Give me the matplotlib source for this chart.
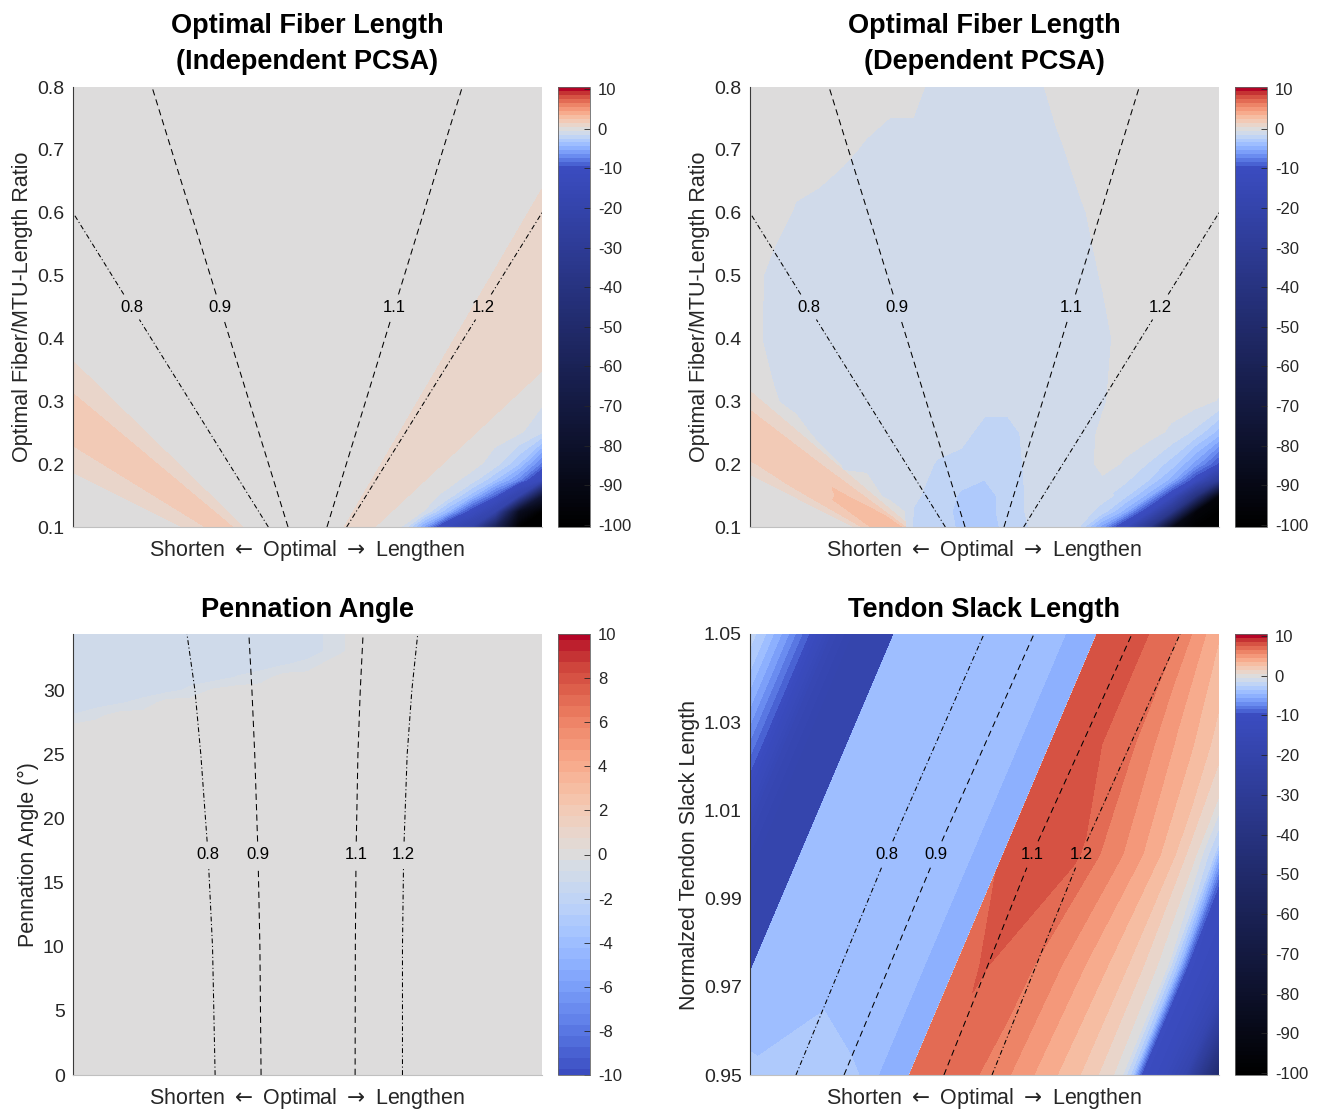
import numpy as np
import matplotlib
matplotlib.use("Agg")
import matplotlib.pyplot as plt
from matplotlib.colors import LinearSegmentedColormap

plt.rcParams['font.family'] = ['Liberation Sans', 'DejaVu Sans']
plt.rcParams['axes.unicode_minus'] = False
plt.rcParams['lines.scale_dashes'] = False

# ---------------- data ----------------
# x-axis of every panel: Shorten <- Optimal -> Lengthen, normalised to [-1, 1]
x_cols = [-1.0, -0.9, -0.8, -0.7, -0.6, -0.5, -0.4, -0.3, -0.2, -0.1, 0.0,
          0.1, 0.2, 0.3, 0.4, 0.5, 0.6, 0.7, 0.8, 0.9, 1.0]

# ---- top panels: over-estimation wedges read along rays from the optimal point ----
# ray slope = x / ratio (the iso-fiber-length lines are such rays)
ray_slope = [-10, -6, -5.6, -5.0, -4.5, -4.0, -3.6, -3.4, -3.0, -2.6, -2.0, 0,
             1.2, 1.5, 1.75, 2.5, 2.7, 3.1, 10]

# % error, Optimal Fiber Length (Independent PCSA)
indep_ratio_rows = [0.1, 0.8]
err_indep_rays = [
    [0, 0, 0.2, 0.9, 1.3, 2.0, 2.2, 2.0, 1.0, 0.2, 0, 0, 0, 0.35, 0.9, 1.0, 0.8, 0.1, 0],
    [0, 0, 0.2, 0.9, 1.3, 2.0, 2.2, 2.0, 1.0, 0.2, 0, 0, 0, 0.35, 0.9, 1.0, 0.8, 0.1, 0],
]

# % error, Optimal Fiber Length (Dependent PCSA): ray part
dep_ratio_rows = [0.1, 0.15, 0.2, 0.3, 0.8]
err_dep_rays = [
    [0, 0, 0.3, 2.2, 3.2, 3.3, 2.8, 1.6, 0, 0, 0, 0, 0, 0, 0, 0, 0, 0, 0],
    [0, 0, 0.2, 1.6, 2.4, 2.6, 2.0, 1.3, 0, 0, 0, 0, 0, 0, 0, 0, 0, 0, 0],
    [0, 0, 0.2, 1.3, 2.0, 2.2, 1.8, 1.2, 0, 0, 0, 0, 0, 0, 0, 0, 0, 0, 0],
    [0, 0, 0.2, 1.3, 2.0, 2.2, 1.8, 1.2, 0, 0, 0, 0, 0, 0, 0, 0, 0, 0, 0],
    [0, 0, 0.2, 1.3, 2.0, 2.2, 1.8, 1.2, 0, 0, 0, 0, 0, 0, 0, 0, 0, 0, 0],
]

# under-estimation in the lower-right corner (values > -0.5 are not part of it)
corner_x = [0.2, 0.3, 0.4, 0.5, 0.6, 0.7, 0.8, 0.9, 1.0]
corner_ratio_rows = [0.1, 0.125, 0.15, 0.175, 0.2, 0.25, 0.3, 0.35]
err_indep_corner = [
    [0, 0, -0.1, -6, -14, -22, -60, -100, -100],
    [0, 0, 0, -0.45, -4.5, -11, -20, -85, -100],
    [0, 0, 0, 0, -0.8, -4, -9, -20, -75],
    [0, 0, 0, 0, 0, -0.9, -3.5, -7, -14],
    [0, 0, 0, 0, 0, 0, -1.0, -3.5, -8],
    [0, 0, 0, 0, 0, 0, 0, -0.2, -1.5],
    [0, 0, 0, 0, 0, 0, 0, 0, -0.2],
    [0, 0, 0, 0, 0, 0, 0, 0, 0],
]
err_dep_corner = [
    [-1, -1, -1.3, -6, -13, -35, -90, -100, -100],
    [-1, -1, -1, -1.8, -5, -12, -35, -95, -100],
    [-1, -1, -1, -1.2, -2.2, -5, -12, -40, -95],
    [0, 0, 0, -0.6, -1.3, -2.5, -5, -11, -30],
    [0, 0, 0, 0, -0.6, -1.6, -3, -6, -10],
    [0, 0, 0, 0, 0, 0, -0.7, -1.8, -4],
    [0, 0, 0, 0, 0, 0, 0, 0, -0.55],
    [0, 0, 0, 0, 0, 0, 0, 0, 0],
]

# central under-estimation region of the dependent-PCSA panel
dep_blob_ratio_rows = [0.1, 0.125, 0.15, 0.2, 0.25, 0.3, 0.4, 0.5, 0.6, 0.7, 0.8]
err_dep_blob = [
    [0, 0, 0, 0, 0, 0, 2.0, -1.8, -2.2, -2.6, -3, -2.2, -1.4, -1, 0, 0, 0, 0, 0, 0, 0],
    [0, 0, 0, 0, 0, 0, 1.5, -1.6, -2, -2.8, -3, -2, -1.3, -1, -1, 0, 0, 0, 0, 0, 0],
    [0, 0, 0, 0, 0, 0.9, -1.2, -1.3, -2, -2.6, -3, -2, -1.3, -1, -1, -1, 0, 0, 0, 0, 0],
    [0, 0, 0, 0.5, -0.6, -1, -1, -1, -1.6, -2, -2, -2, -1.2, -1, -1, -0.2, 0, 0, 0, 0, 0],
    [0, 0, 0.3, -1, -1, -1, -1, -1, -1, -1, -2, -2, -1, -1, -1, -0.3, 0, 0, 0, 0, 0],
    [0, -0.3, -1, -1, -1, -1, -1, -1, -1, -1, -1, -1, -1, -1, -1, -0.6, 0, 0, 0, 0, 0],
    [0, -0.9, -1, -1, -1, -1, -1, -1, -1, -1, -1, -1, -1, -1, -1, -0.8, 0, 0, 0, 0, 0],
    [0, -0.8, -1, -1, -1, -1, -1, -1, -1, -1, -1, -1, -1, -1, -1, -0.4, 0, 0, 0, 0, 0],
    [0, 0, -0.6, -1, -1, -1, -1, -1, -1, -1, -1, -1, -1, -1, -0.7, 0, 0, 0, 0, 0, 0],
    [0, 0, 0, 0.28, -0.31, -0.6, -1, -1, -1, -1, -1, -1, -1, -0.8, 0, 0, 0, 0, 0, 0, 0],
    [0, 0, 0, 0, 0, 0, 0, 0, -1, -1, -1, -1, -1, 0, 0, 0, 0, 0, 0, 0, 0],
]

# Normalised fiber-length iso-lines (top panels): x position vs ratio
fl_ratio_08 = [0.1, 0.6]
fl_x_08 = [-0.167, -1.0]
fl_ratio_09 = [0.1, 0.8]
fl_x_09 = [-0.083, -0.663]
fl_ratio_11 = [0.1, 0.8]
fl_x_11 = [0.083, 0.66]
fl_ratio_12 = [0.1, 0.6]
fl_x_12 = [0.167, 1.0]

# ---- Pennation angle panel ----
angle_rows = [0, 27, 28, 29, 30, 31, 32, 33, 34.38]
err_penn = [
    [0.0] * 21,
    [0.0] * 21,
    [-0.72, -0.375] + [0.0] * 19,
    [-1.0, -1.0, -0.79, -0.58] + [0.0] * 17,
    [-1.0, -1.0, -1.0, -1.0, -0.94, -0.64, -0.17] + [0.0] * 14,
    [-1.0, -1.0, -1.0, -1.0, -1.0, -1.0, -1.0, -0.72, -0.5] + [0.0] * 12,
    [-1.0] * 9 + [-0.79, -0.58] + [0.0] * 10,
    [-1.0] * 11 + [-0.63] + [0.0] * 9,
    [-1.0] * 11 + [-0.63] + [0.0] * 9,
]
pa_angles = [0, 10, 17.2, 25, 30, 34.38]
pa_x_08 = [-0.394, -0.405, -0.424, -0.455, -0.48, -0.514]
pa_x_09 = [-0.198, -0.203, -0.211, -0.225, -0.237, -0.25]
pa_x_11 = [0.203, 0.204, 0.207, 0.215, 0.225, 0.237]
pa_x_12 = [0.405, 0.405, 0.41, 0.425, 0.445, 0.47]

# ---- Tendon slack length panel: values across the slanted bands ----
ts_band_pos = [-1.85, -1.75, -1.65, -1.55, -1.45, -1.35, -1.187, -1.185, -1.0, -0.8,
               -0.6, -0.47, -0.44, -0.321, -0.319, -0.2, 0.0, 0.1, 0.2, 0.3, 0.4,
               0.5, 0.58, 0.63, 0.67, 0.75, 0.85, 0.95, 1.05]
ts_rows = [0.95, 0.975, 1.0, 1.025, 1.05]
ts_band_shift = 0.8   # x shift of the bands from bottom to top of the panel
err_tendon = [
    [-1, -3, -6, -9.5, -16, -19, -19, -3.2, -3.4, -2.8, -3.4, -3.6, -5.2, -5.0, 7.0, 7.2,
     6.4, 5.6, 4.6, 3.6, 2.6, 1.3, 0.0, -3, -10, -12, -18, -40, -60],
    [-1, -3, -6, -9.5, -16, -19, -19, -4.0, -4.0, -4.0, -4.0, -3.8, -5.2, -5.0, 7.0, 7.6,
     6.6, 5.8, 4.8, 3.8, 2.7, 1.2, -0.3, -4, -10, -12, -16, -30, -50],
    [-1, -3, -6, -9.5, -16, -19, -19, -4.0, -4.0, -4.0, -4.0, -3.8, -5.2, -5.0, 7.6, 8.0,
     7.6, 6.4, 5.4, 4.2, 2.8, 0.6, -2.5, -8, -11, -12, -16, -30, -50],
    [-1, -3, -6, -9.5, -16, -19, -19, -4.0, -4.0, -4.0, -4.0, -3.8, -5.2, -5.0, 7.6, 8.0,
     7.0, 5.8, 4.6, 3.4, 2.0, 0.2, -3, -8, -11, -12, -16, -30, -50],
    [-1, -3, -6, -9.5, -16, -19, -19, -4.0, -4.0, -4.0, -4.0, -3.8, -5.2, -5.0, 7.6, 8.0,
     7.0, 5.2, 3.6, 2.2, 1.0, 0, -3, -8, -11, -12, -16, -30, -50],
]
ts_y = [0.95, 1.0, 1.05]
ts_x_08 = [-0.804, -0.416, -0.002]
ts_x_09 = [-0.599, -0.207, 0.211]
ts_x_11 = [-0.173, 0.203, 0.629]
ts_x_12 = [0.032, 0.411, 0.834]

level_labels = ['0.8', '0.9', '1.1', '1.2']
cbar_ticks_main = [10, 0, -10, -20, -30, -40, -50, -60, -70, -80, -90, -100]
cbar_ticks_penn = [10, 8, 6, 4, 2, 0, -2, -4, -6, -8, -10]

# ---------------- styling ----------------
cw = plt.get_cmap('coolwarm')
nodes = [(0.0, (0, 0, 0))] + [((v + 100) / 110, cw((v + 10) / 20)) for v in np.linspace(-10, 10, 41)]
err_cmap = LinearSegmentedColormap.from_list('err', nodes, N=2048)
main_levels = np.arange(-100.5, 10.6, 1.0)
neg_levels = main_levels[main_levels <= -0.5]
penn_levels = np.arange(-10.25, 10.3, 0.5)

W, H = 1321, 1110
fig = plt.figure(figsize=(W / 100, H / 100), dpi=100)


def fpos(x0, y0, x1, y1):
    return [x0 / W, 1 - y1 / H, (x1 - x0) / W, (y1 - y0) / H]


styles = ['dashdot', 'dashed', 'dashed', 'dashdot']
dash_map = {'dashed': (0, (4.5, 3.0)), 'dashdot': (0, (3.5, 1.8, 0.8, 1.8))}
XLABEL = 'Shorten $\\leftarrow$ Optimal $\\rightarrow$ Lengthen'


def style_axes(ax, ylabel):
    ax.spines['top'].set_visible(False)
    ax.spines['right'].set_visible(False)
    ax.spines['left'].set_color('#3a3a3a')
    ax.spines['left'].set_linewidth(0.8)
    ax.spines['bottom'].set_color('#c0c0c0')
    ax.spines['bottom'].set_linewidth(0.8)
    ax.set_xticks([])
    ax.tick_params(axis='y', length=0, labelsize=14, pad=6, colors='#262626')
    ax.set_xlabel(XLABEL, fontsize=15.5, labelpad=8, color='#262626')
    ax.set_ylabel(ylabel, fontsize=15.5, labelpad=3, color='#262626')


def iso_line(ax, xs, ys, style, label, ylab, gap):
    xs = np.asarray(xs, float)
    ys = np.asarray(ys, float)
    ls = dash_map[style]
    lo = ys < ylab - gap
    hi = ys > ylab + gap
    xl = np.append(xs[lo], np.interp(ylab - gap, ys, xs))
    yl = np.append(ys[lo], ylab - gap)
    xh = np.insert(xs[hi], 0, np.interp(ylab + gap, ys, xs))
    yh = np.insert(ys[hi], 0, ylab + gap)
    for a, b in ((xl, yl), (xh, yh)):
        ax.plot(a, b, color='black', lw=0.75, linestyle=ls)
    ax.text(np.interp(ylab, ys, xs), ylab, label, ha='center', va='center', fontsize=12)


def colorbar(cs, pos, ticks, lim=None):
    cax = fig.add_axes(pos)
    cb = fig.colorbar(cs, cax=cax, ticks=ticks)
    cb.outline.set_linewidth(0.6)
    cb.outline.set_edgecolor('#666666')
    cax.tick_params(direction='in', length=4, width=0.6, labelsize=12, pad=6, colors='#262626')
    cax.set_yticklabels([str(t) for t in ticks])
    if lim is not None:
        cax.set_ylim(*lim)
    return cb


def fan_mesh(slopes, ratios):
    S, R = np.meshgrid(slopes, ratios)
    return S * R, R


# ---- Panel 1 ----
ax1 = fig.add_axes(fpos(73, 87, 542, 527))
X1, Y1 = fan_mesh(ray_slope, indep_ratio_rows)
cs1 = ax1.contourf(X1, Y1, np.array(err_indep_rays), levels=main_levels,
                   cmap=err_cmap, vmin=-100, vmax=10)
ax1.contourf(corner_x, corner_ratio_rows, np.array(err_indep_corner), levels=neg_levels,
             cmap=err_cmap, vmin=-100, vmax=10)
# ---- Panel 2 ----
ax2 = fig.add_axes(fpos(750, 87, 1219, 527))
X2, Y2 = fan_mesh(ray_slope, dep_ratio_rows)
cs2 = ax2.contourf(X2, Y2, np.array(err_dep_rays), levels=main_levels,
                   cmap=err_cmap, vmin=-100, vmax=10)
ax2.contourf(corner_x, corner_ratio_rows, np.array(err_dep_corner), levels=neg_levels,
             cmap=err_cmap, vmin=-100, vmax=10)
ax2.contourf(x_cols, dep_blob_ratio_rows, np.array(err_dep_blob),
             levels=[-3.5, -2.5, -1.5, -0.5], cmap=err_cmap, vmin=-100, vmax=10)

fl_lines = [(fl_x_08, fl_ratio_08), (fl_x_09, fl_ratio_09), (fl_x_11, fl_ratio_11), (fl_x_12, fl_ratio_12)]
for ax, title in ((ax1, 'Optimal Fiber Length\n(Independent PCSA)'),
                  (ax2, 'Optimal Fiber Length\n(Dependent PCSA)')):
    for (xs, ys), st, lab in zip(fl_lines, styles, level_labels):
        iso_line(ax, xs, ys, st, lab, 0.45, 0.02)
    ax.set_xlim(-1, 1)
    ax.set_ylim(0.1, 0.8)
    ax.set_yticks([0.1, 0.2, 0.3, 0.4, 0.5, 0.6, 0.7, 0.8])
    ax.set_yticklabels(['0.1', '0.2', '0.3', '0.4', '0.5', '0.6', '0.7', '0.8'])
    style_axes(ax, 'Optimal Fiber/MTU-Length Ratio')
    ax.set_title(title, fontsize=19.5, fontweight='bold', pad=13, linespacing=1.5)
colorbar(cs1, fpos(557.5, 87, 589.5, 527), cbar_ticks_main)
colorbar(cs2, fpos(1234.5, 87, 1266.5, 527), cbar_ticks_main)

# ---- Panel 3 ----
ax3 = fig.add_axes(fpos(73, 634, 542, 1075))
cs3 = ax3.contourf(x_cols, angle_rows, np.array(err_penn), levels=penn_levels,
                   cmap='coolwarm', vmin=-10, vmax=10)
for xs, st, lab in zip((pa_x_08, pa_x_09, pa_x_11, pa_x_12), styles, level_labels):
    iso_line(ax3, xs, pa_angles, st, lab, 17.2, 1.0)
ax3.set_xlim(-1, 1)
ax3.set_ylim(0, 34.38)
ax3.set_yticks([0, 5, 10, 15, 20, 25, 30])
style_axes(ax3, 'Pennation Angle (\u00b0)')
ax3.set_title('Pennation Angle', fontsize=19.5, fontweight='bold', pad=12)
colorbar(cs3, fpos(557.5, 634, 589.5, 1075), cbar_ticks_penn, lim=(-10, 10))

# ---- Panel 4 ----
ax4 = fig.add_axes(fpos(750, 634, 1219, 1075))
U, Y = np.meshgrid(ts_band_pos, ts_rows)
X = U + ts_band_shift * (Y - ts_rows[0]) / (ts_rows[-1] - ts_rows[0])
cs4 = ax4.contourf(X, Y, np.array(err_tendon), levels=main_levels,
                   cmap=err_cmap, vmin=-100, vmax=10)
for xs, st, lab in zip((ts_x_08, ts_x_09, ts_x_11, ts_x_12), styles, level_labels):
    iso_line(ax4, xs, ts_y, st, lab, 1.0, 0.003)
ax4.set_xlim(-1, 1)
ax4.set_ylim(0.95, 1.05)
ax4.set_yticks([0.95, 0.97, 0.99, 1.01, 1.03, 1.05])
ax4.set_yticklabels(['0.95', '0.97', '0.99', '1.01', '1.03', '1.05'])
style_axes(ax4, 'Normalzed Tendon Slack Length')
ax4.set_title('Tendon Slack Length', fontsize=19.5, fontweight='bold', pad=12)
colorbar(cs4, fpos(1234.5, 634, 1266.5, 1075), cbar_ticks_main)

fig.savefig('out.png', dpi=100, facecolor='white')
